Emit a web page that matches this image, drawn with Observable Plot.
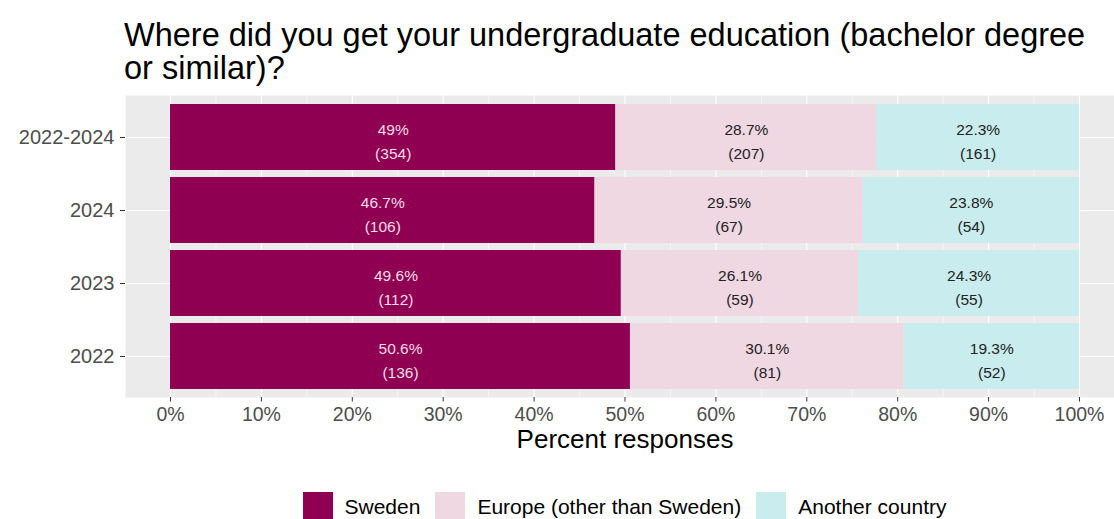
<!DOCTYPE html>
<html>
<head>
<meta charset="utf-8">
<script src="https://cdn.jsdelivr.net/npm/d3@7"></script>
<script src="https://cdn.jsdelivr.net/npm/@observablehq/plot@0.6"></script>
<style>
  html, body { margin: 0; padding: 0; background: #ffffff; overflow: hidden; }
  body { width: 1114px; height: 519px; position: relative; font-family: "Liberation Sans", Arial, sans-serif; }
  #title { position: absolute; left: 124px; top: 19px; font-size: 32.5px; line-height: 33px; color: #000; white-space: nowrap; }
  #chart { position: absolute; left: 0; top: 88px; }
  #legend { position: absolute; left: 0; top: 492px; width: 1114px; box-sizing: border-box; padding-left: 135px;
            display: flex; justify-content: center; align-items: center; font-size: 21px; color: #000; }
  .key { width: 30px; height: 30px; margin-right: 12px; }
  .lab { margin-right: 15px; line-height: 30px; }
</style>
</head>
<body>
<div id="title">Where did you get your undergraduate education (bachelor degree<br>or similar)?</div>
<div id="chart"></div>
<div id="legend"></div>
<script>
const categories = ["2022-2024", "2024", "2023", "2022"];
const groups = ["Sweden", "Europe (other than Sweden)", "Another country"];
const groupColors = ["#8f0052", "#f0d8e2", "#c9ecee"];

const swedenPct = [49, 46.7, 49.6, 50.6];
const europePct = [28.7, 29.5, 26.1, 30.1];
const otherPct  = [22.3, 23.8, 24.3, 19.3];
const swedenN = [354, 106, 112, 136];
const europeN = [207, 67, 59, 81];
const otherN  = [161, 54, 55, 52];

const xTicks = [0, 10, 20, 30, 40, 50, 60, 70, 80, 90, 100];
const xMinor = [5, 15, 25, 35, 45, 55, 65, 75, 85, 95];
const xTitle = "Percent responses";

const pctBy = [swedenPct, europePct, otherPct];
const nBy = [swedenN, europeN, otherN];
const rows = [];
categories.forEach((cat, i) => {
  groups.forEach((g, j) => {
    rows.push({cat, group: g, pct: pctBy[j][i], n: nBy[j][i]});
  });
});
const label = d => `${d.pct}%\n(${d.n})`;

const plot = Plot.plot({
  width: 1114,
  height: 380,
  marginLeft: 125,
  marginRight: 0,
  marginTop: 7,
  marginBottom: 71,
  style: {fontFamily: "'Liberation Sans', Arial, sans-serif", background: "transparent"},
  x: {domain: [-4.95, 103.85]},
  y: {domain: categories, paddingInner: 0.1, paddingOuter: 0.118},
  color: {domain: groups, range: groupColors},
  marks: [
    Plot.frame({fill: "#ebebeb", stroke: "none"}),
    Plot.gridX(xMinor, {stroke: "#ffffff", strokeOpacity: 1, strokeWidth: 0.55}),
    Plot.gridX(xTicks, {stroke: "#ffffff", strokeOpacity: 1, strokeWidth: 1.1}),
    Plot.gridY({stroke: "#ffffff", strokeOpacity: 1, strokeWidth: 1.1}),
    Plot.barX(rows, {x: "pct", y: "cat", fill: "group"}),
    Plot.text(rows, Plot.stackX({
      x: "pct", y: "cat", z: "group",
      text: d => d.group === "Sweden" ? label(d) : "",
      fill: "#f2dce7", fontSize: 15.5, lineHeight: 1.55, dy: 1.5
    })),
    Plot.text(rows, Plot.stackX({
      x: "pct", y: "cat", z: "group",
      text: d => d.group !== "Sweden" ? label(d) : "",
      fill: "#222222", fontSize: 15.5, lineHeight: 1.55, dy: 1.5
    })),
    Plot.axisX({ticks: xTicks, tickFormat: d => d + "%", fontSize: 19.5, tickSize: 4.5, tickPadding: 5.5,
                fill: "#4d4d4d", stroke: "#333333", label: null}),
    Plot.axisY({fontSize: 20, tickSize: 5, tickPadding: 6, fill: "#4d4d4d", stroke: "#333333", label: null}),
    Plot.text([{t: xTitle, x: 50}], {x: "x", text: "t", frameAnchor: "bottom", dy: 50.5, fontSize: 26, fill: "#000000"})
  ]
});
document.getElementById("chart").appendChild(plot);

const legend = document.getElementById("legend");
groups.forEach((g, j) => {
  const k = document.createElement("div");
  k.className = "key";
  k.style.background = groupColors[j];
  const t = document.createElement("div");
  t.className = "lab";
  t.textContent = g;
  if (j === groups.length - 1) t.style.marginRight = "0";
  legend.appendChild(k);
  legend.appendChild(t);
});
</script>
</body>
</html>
